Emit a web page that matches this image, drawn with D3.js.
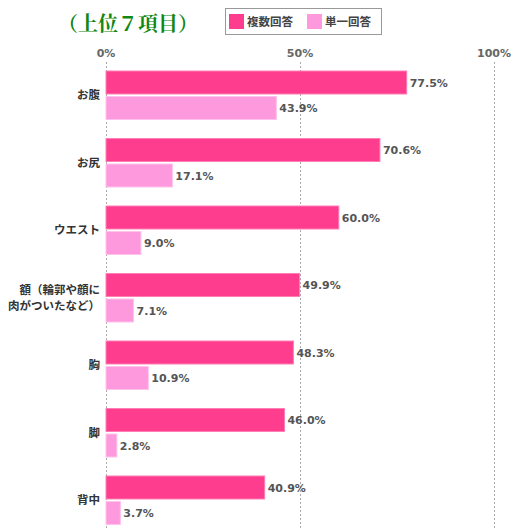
<!DOCTYPE html>
<html>
<head>
<meta charset="utf-8">
<script src="https://cdn.jsdelivr.net/npm/d3@7"></script>
<style>
  body { margin: 0; background: #fff; }
  svg { display: block; }
</style>
</head>
<body>
<div id="chart"></div>
<script>
const categories = ['お腹', 'お尻', 'ウエスト', '額（輪郭や顔に\n肉がついたなど）', '胸', '脚', '背中']
const multiValues = [77.5, 70.6, 60.0, 49.9, 48.3, 46.0, 40.9]
const singleValues = [43.9, 17.1, 9.0, 7.1, 10.9, 2.8, 3.7]
const seriesNames = ['複数回答', '単一回答']
const seriesColors = ['#ff3d8f', '#ff99dd']
const ticks = [0, 50, 100]

const W = 525, H = 528
const svg = d3.select('#chart').append('svg')
  .attr('width', W).attr('height', H)

const x = d3.scaleLinear().domain([0, 100]).range([106, 494])
// each row is one band; bars fill the top of the band
const y = d3.scaleBand().domain(categories).range([71, 71 + 7 * 67.5])

// title
svg.append('text')
  .attr('x', 58).attr('y', 31)
  .style('font-family', '"Noto Serif CJK JP", "Noto Sans CJK JP", serif')
  .style('font-size', '20px').style('font-weight', 'bold')
  .style('fill', '#118811')
  .text('（上位７項目）')

// legend
const lg = svg.append('g')
lg.append('rect').attr('x', 225.5).attr('y', 8.5).attr('width', 156).attr('height', 26)
  .attr('fill', '#fff').attr('stroke', '#999')
seriesNames.forEach((n, i) => {
  const lx = 229 + i * 78
  lg.append('rect').attr('x', lx).attr('y', 14).attr('width', 15).attr('height', 15)
    .attr('fill', seriesColors[i])
  lg.append('text').attr('x', lx + 18).attr('y', 26)
    .style('font-family', '"Noto Sans CJK JP", sans-serif')
    .style('font-size', '11.5px').style('font-weight', 'bold').style('fill', '#444')
    .text(n)
})

// gridlines
svg.append('g').selectAll('line').data(ticks).join('line')
  .attr('x1', d => Math.round(x(d)) + 0.5).attr('x2', d => Math.round(x(d)) + 0.5)
  .attr('y1', 62).attr('y2', 528)
  .attr('stroke', '#aaa').attr('stroke-dasharray', '2,2')

svg.append('g').selectAll('text').data(ticks).join('text')
  .attr('x', d => x(d)).attr('y', 57)
  .attr('text-anchor', 'middle')
  .style('font-family', 'Verdana, "DejaVu Sans", sans-serif')
  .style('font-size', '11px').style('font-weight', 'bold').style('fill', '#666')
  .text(d => d + '%')

const bh = 23, gap = 2.5

const rows = svg.append('g').selectAll('g').data(categories).join('g')
  .attr('transform', d => `translate(0,${y(d)})`)

rows.each(function (c, i) {
  const g = d3.select(this)
  ;[multiValues[i], singleValues[i]].forEach((v, s) => {
    const top = s * (bh + gap)
    g.append('rect')
      .attr('x', x(0)).attr('y', top)
      .attr('width', x(v) - x(0)).attr('height', bh)
      .attr('fill', seriesColors[s])
      .attr('stroke', s === 0 ? '#ff7fb5' : '#ffc2ec').attr('stroke-width', 1)
    g.append('text')
      .attr('x', x(v) + 3).attr('y', top + bh / 2 + 4)
      .style('font-family', 'Verdana, "DejaVu Sans", sans-serif')
      .style('font-size', '11px').style('font-weight', 'bold').style('fill', '#555')
      .text(v.toFixed(1) + '%')
  })
  const lines = c.split('\n')
  const cy = bh + gap / 2
  lines.forEach((ln, k) => {
    g.append('text')
      .attr('x', 100).attr('y', cy + 4 + (k - (lines.length - 1) / 2) * 15.5)
      .attr('text-anchor', 'end')
      .style('font-family', '"Noto Sans CJK JP", sans-serif')
      .style('font-size', '11.5px').style('font-weight', 'bold').style('fill', '#333')
      .text(ln)
  })
})
</script>
</body>
</html>
